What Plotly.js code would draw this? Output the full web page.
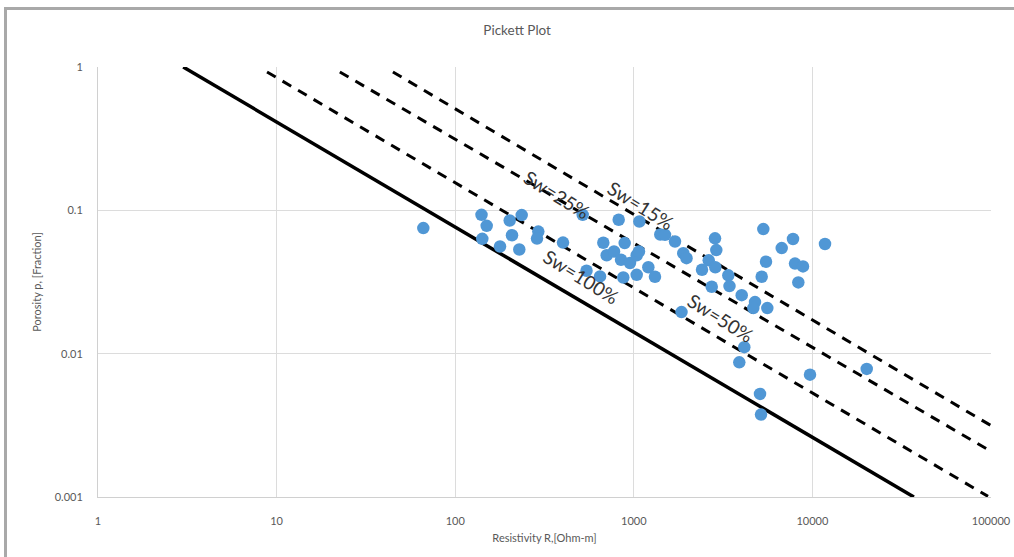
<!DOCTYPE html>
<html>
<head>
<meta charset="utf-8">
<script src="https://cdn.plot.ly/plotly-3.0.1.min.js"></script>
<style>
  html, body { margin: 0; padding: 0; background: #ffffff; }
  #wrap { position: relative; width: 1014px; height: 557px; overflow: hidden; }
  #chart { position: absolute; left: 0; top: 0; width: 1014px; height: 557px; }
  #frame { position: absolute; left: 4px; top: 7px; width: 1200px; height: 700px;
           border-left: 3px solid #a9a9a9; border-top: 3px solid #a9a9a9; pointer-events: none; }
</style>
</head>
<body>
<div id="wrap">
  <div id="chart"></div>
  <div id="frame"></div>
</div>
<script>
// Measured data points: resistivity (Ohm-m) and porosity (fraction)
const resistivity = [66.3, 140.4, 150.1, 141.8, 178.2, 201.9, 235.7, 208, 228.5, 292, 287.1, 401.5,
  517.5, 543.5, 647, 823, 1074, 675, 705, 775, 889, 848, 952, 1038, 1069, 873, 1038, 1206, 1314,
  1407, 1495, 1701, 1893, 1973, 1850, 2849, 2897, 2627, 2409, 2860, 3382, 3434, 2731, 4019,
  5311, 6732, 7788, 11762, 5499, 7991, 8858, 5201, 8340, 4771, 4668, 5592, 4156, 3896, 9697,
  20146, 5089, 5155];
const porosity = [0.0752, 0.0930, 0.0780, 0.0633, 0.0559, 0.0849, 0.0926, 0.0670, 0.0533, 0.0711,
  0.0635, 0.0596, 0.0930, 0.0379, 0.0346, 0.0859, 0.0836, 0.0594, 0.0486, 0.0516, 0.0591, 0.0452,
  0.0429, 0.0486, 0.0516, 0.0340, 0.0355, 0.0401, 0.0344, 0.0678, 0.0675, 0.0606, 0.0502, 0.0464,
  0.0195, 0.0638, 0.0528, 0.0448, 0.0385, 0.0401, 0.0352, 0.0296, 0.0293, 0.0256, 0.0740, 0.0545,
  0.0631, 0.0582, 0.0438, 0.0425, 0.0406, 0.0344, 0.0314, 0.0229, 0.0208, 0.0208, 0.0111, 0.00870,
  0.00714, 0.00783, 0.00524, 0.00376];

// Saturation lines (end points)
const sw100R = [3.0, 37000];      const sw100Phi = [1, 0.001];
const sw50R  = [8.84, 96200];     const sw50Phi  = [0.923, 0.00101];
const sw25R  = [22.6, 100000];    const sw25Phi  = [0.923, 0.00208];
const sw15R  = [44.8, 100000];    const sw15Phi  = [0.923, 0.00315];

// Line labels
const labelText = ['Sw=25%', 'Sw=15%', 'Sw=100%', 'Sw=50%'];
const labelR    = [371, 1097, 506, 3039];
const labelPhi  = [0.128, 0.1075, 0.0344, 0.0178];

// Axis ticks
const xTickVals = [1, 10, 100, 1000, 10000, 100000];
const xTickText = ['1', '10', '100', '1000', '10000', '100000'];
const yTickVals = [0.001, 0.01, 0.1, 1];
const yTickText = ['0.001', '0.01', '0.1', '1'];

const FONT = 'Lato, "Open Sans", "DejaVu Sans", sans-serif';
const dashLine = { color: '#000000', width: 3, dash: '10px,8px' };

const traces = [
  { x: sw100R, y: sw100Phi, mode: 'lines', line: { color: '#000000', width: 3.5 }, hoverinfo: 'skip' },
  { x: sw50R, y: sw50Phi, mode: 'lines', line: dashLine, hoverinfo: 'skip' },
  { x: sw25R, y: sw25Phi, mode: 'lines', line: dashLine, hoverinfo: 'skip' },
  { x: sw15R, y: sw15Phi, mode: 'lines', line: dashLine, hoverinfo: 'skip' },
  { x: resistivity, y: porosity, mode: 'markers', marker: { color: '#5097d5', size: 12.5 } }
];

const annotations = labelText.map((t, i) => ({
  x: Math.log10(labelR[i]), y: Math.log10(labelPhi[i]), xref: 'x', yref: 'y',
  text: t, showarrow: false, textangle: 32,
  font: { family: FONT, size: 19, color: '#333333' }
}));

const layout = {
  width: 1014, height: 557,
  margin: { l: 98, r: 23, t: 67, b: 60 },
  paper_bgcolor: '#ffffff', plot_bgcolor: '#ffffff',
  showlegend: false,
  title: { text: 'Pickett Plot', x: 0.51, xref: 'container', y: 0.946, yref: 'container',
           xanchor: 'center', yanchor: 'middle',
           font: { family: FONT, size: 13.5, color: '#595959' } },
  xaxis: {
    type: 'log', range: [0, 5],
    tickvals: xTickVals, ticktext: xTickText,
    showgrid: true, gridcolor: '#dcdcdc', gridwidth: 1,
    showline: true, linecolor: '#d0d0d0', linewidth: 1,
    zeroline: false, ticks: '', ticklabelstandoff: 14,
    tickfont: { family: FONT, size: 11, color: '#595959' },
    title: { text: 'Resistivity R,[Ohm-m]', standoff: 8,
             font: { family: FONT, size: 11, color: '#595959' } }
  },
  yaxis: {
    type: 'log', range: [-3, 0],
    tickvals: yTickVals, ticktext: yTickText,
    showgrid: true, gridcolor: '#dcdcdc', gridwidth: 1,
    showline: true, linecolor: '#d0d0d0', linewidth: 1,
    zeroline: false, ticks: '', ticklabelstandoff: 12,
    tickfont: { family: FONT, size: 11, color: '#595959' },
    title: { text: 'Porosity p, [Fraction]', standoff: 10,
             font: { family: FONT, size: 11, color: '#595959' } }
  },
  annotations: annotations
};

Plotly.newPlot('chart', traces, layout, { displayModeBar: false, staticPlot: true });
</script>
</body>
</html>
